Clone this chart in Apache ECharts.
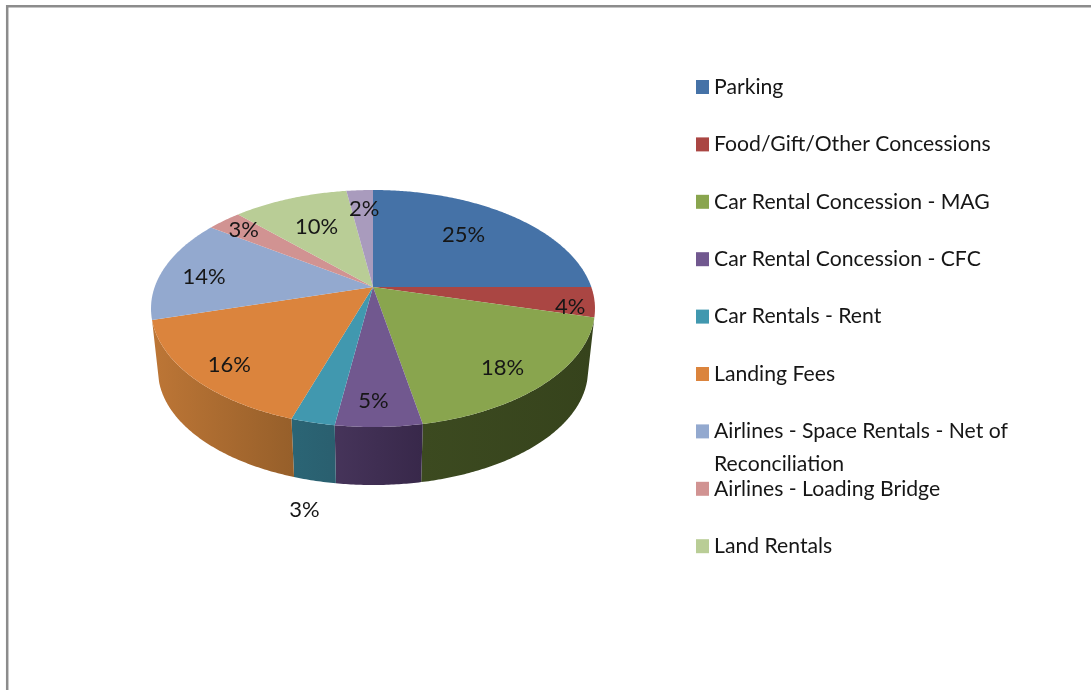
<!DOCTYPE html>
<html>
<head>
<meta charset="utf-8">
<title>Revenue pie</title>
<script src="https://cdn.jsdelivr.net/npm/echarts@6/dist/echarts.min.js"></script>
<style>
html, body { margin: 0; padding: 0; background: #fff; }
#chart { width: 1091px; height: 690px; }
</style>
</head>
<body>
<div id="chart"></div>
<script>
// legend entries, the last slice has no entry in the original legend
const categories = [
    "Parking",
    "Food/Gift/Other Concessions",
    "Car Rental Concession - MAG",
    "Car Rental Concession - CFC",
    "Car Rentals - Rent",
    "Landing Fees",
    "Airlines - Space Rentals - Net of\nReconciliation",
    "Airlines - Loading Bridge",
    "Land Rentals"
];
const unlistedCategory = "Other";

// shares, in percent
const shares = [25.0, 4.1, 17.9, 5.3, 2.7, 15.6, 14.1, 3.0, 10.0, 2.3];

const topColors = ["#4572A7", "#AA4643", "#89A54E", "#71588F", "#4198AF", "#DB843D", "#93A9CF", "#D19392", "#B9CD96", "#A99BBD"];
// side wall colours, left to right
const wallColors = [null, null, ["#3c4a20", "#36431c"], ["#46345a", "#38284a"], ["#2b6575", "#2a5f6f"], ["#bd7636", "#965f2a"], null, null, null, null];

// label shift from the default spot inside the slice
const labelShift = [[2, -6], [61, 11], [29, 24], [-3, 34], [-34, 145], [-38, 24], [-38, 1], [-33, -14], [-2, -2], [0, -14]];

const FONT = "Lato, 'Open Sans', sans-serif";
const TEXT_COLOR = "#161616";

// tilted disc: a circle seen in perspective, apex is the circle's centre
const apex = { x: 373, y: 287 };
const spreadX = 218.3, spreadY = 114.6, persp = 0.1814;
const rimCentreY = 309, rimRy = 119, rimRx = 222;
const baseCentreY = 371, baseRy = 115, baseRx = 215;

function project(angle, r) {
    const u = r * Math.sin(angle);
    const d = -r * Math.cos(angle);
    const s = 1 / (1 - persp * d);
    return [apex.x + spreadX * u * s, apex.y + spreadY * d * s];
}

function toBase(p) {
    return [
        apex.x + (p[0] - apex.x) * baseRx / rimRx,
        baseCentreY + (p[1] - rimCentreY) * baseRy / rimRy
    ];
}

const total = shares.reduce((a, b) => a + b, 0);

function sliceRange(i) {
    let before = 0;
    for (let k = 0; k < i; k++) before += shares[k];
    return [before / total * Math.PI * 2, (before + shares[i]) / total * Math.PI * 2];
}

function arcPoints(a0, a1) {
    const pts = [];
    const steps = Math.max(2, Math.ceil((a1 - a0) / 0.01));
    for (let n = 0; n <= steps; n++) {
        pts.push(project(a0 + (a1 - a0) * n / steps, 1));
    }
    return pts;
}

function renderSlice(i) {
    return function (params, api) {
        const value = api.value(0);
        const range = sliceRange(i);
        const children = [];

        // the wall only shows along the front of the disc
        if (wallColors[i]) {
            const rim = arcPoints(range[0], range[1]);
            const wall = rim.concat(rim.map(toBase).reverse());
            children.push({
                type: "polygon",
                z2: 1,
                shape: { points: wall },
                style: {
                    fill: new echarts.graphic.LinearGradient(0, 0, 1, 0, [
                        { offset: 0, color: wallColors[i][0] },
                        { offset: 1, color: wallColors[i][1] }
                    ])
                }
            });
        }

        children.push({
            type: "polygon",
            z2: 5,
            shape: { points: [[apex.x, apex.y]].concat(arcPoints(range[0], range[1])) },
            style: { fill: topColors[i] }
        });

        const mid = project((range[0] + range[1]) / 2, 0.62);
        children.push({
            type: "text",
            z2: 100,
            x: mid[0] + labelShift[i][0],
            y: mid[1] + labelShift[i][1],
            style: {
                text: Math.round(value) + "%",
                font: "22px " + FONT,
                fill: TEXT_COLOR,
                align: "center",
                verticalAlign: "middle"
            }
        });
        return { type: "group", children: children };
    };
}

const allNames = categories.concat([unlistedCategory]);

const option = {
    animation: false,
    backgroundColor: "#fff",
    legend: {
        orient: "vertical",
        left: 696,
        top: 76,
        padding: 0,
        selectedMode: false,
        data: categories,
        icon: "rect",
        itemWidth: 13,
        itemHeight: 14,
        itemGap: 35.4,
        formatter: name => name.split("\n")[0],
        textStyle: { fontFamily: "Lato", fontSize: 21.2, color: TEXT_COLOR, lineHeight: 22 }
    },
    graphic: [
        // chart frame, open on the right and at the bottom
        { type: "polyline", z: 10, shape: { points: [[7.2, 690], [7.2, 6.3], [1091, 6.3]] }, style: { stroke: "#8c8c8c", lineWidth: 2.5, fill: "none" } },
        // second line of the long legend entry
        { type: "text", x: 714, y: 464, style: { text: categories[6].split("\n")[1], font: "21.2px " + FONT, fill: TEXT_COLOR, verticalAlign: "middle" } }
    ],
    series: allNames.map((name, i) => ({
        type: "custom",
        name: name,
        coordinateSystem: "none",
        itemStyle: { color: topColors[i] },
        renderItem: renderSlice(i),
        data: [[shares[i]]]
    }))
};

const chart = echarts.init(document.getElementById("chart"));
chart.setOption(option);
</script>
</body>
</html>
